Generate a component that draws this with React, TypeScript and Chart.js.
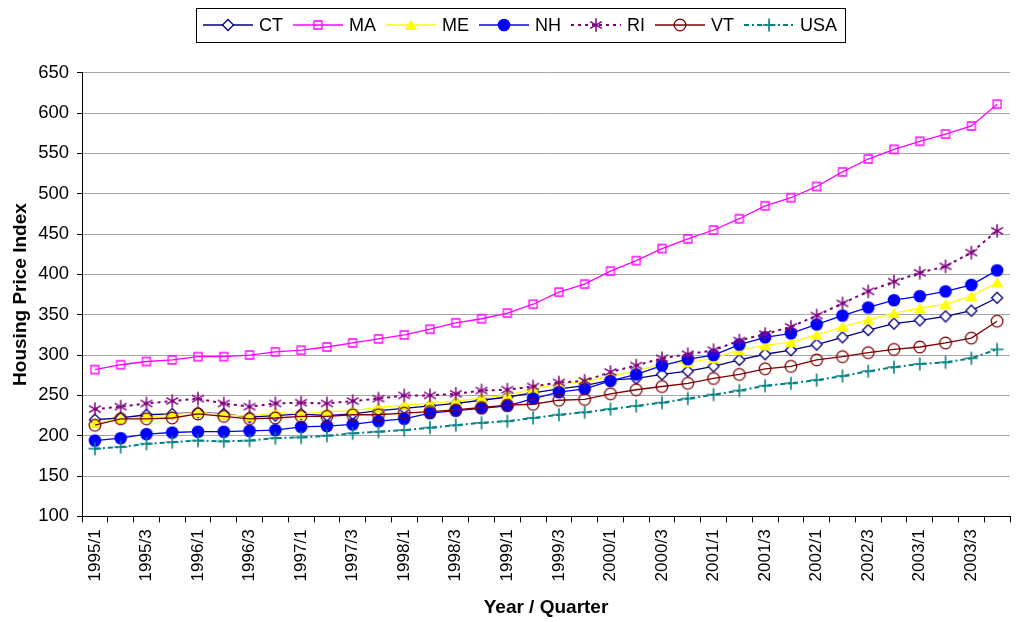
import React, { useEffect, useRef } from 'react';
import { Chart, registerables } from 'chart.js';

Chart.register(...registerables);

const quarterLabels = [
  '1995/1', '1995/2', '1995/3', '1995/4',
  '1996/1', '1996/2', '1996/3', '1996/4',
  '1997/1', '1997/2', '1997/3', '1997/4',
  '1998/1', '1998/2', '1998/3', '1998/4',
  '1999/1', '1999/2', '1999/3', '1999/4',
  '2000/1', '2000/2', '2000/3', '2000/4',
  '2001/1', '2001/2', '2001/3', '2001/4',
  '2002/1', '2002/2', '2002/3', '2002/4',
  '2003/1', '2003/2', '2003/3', '2003/4',
];

const ctValues = [220, 222, 226, 227, 229, 227, 223, 225, 227, 225, 227, 231, 234, 237, 240, 244, 248, 253, 258, 262, 269, 271, 276, 280, 286, 294, 301, 306, 313, 322, 331, 339, 343, 348, 355, 371];
const maValues = [282, 288, 292, 294, 298, 298, 300, 304, 306, 310, 315, 320, 325, 332, 340, 345, 352, 363, 378, 388, 404, 417, 432, 444, 455, 469, 485, 495, 509, 527, 543, 555, 565, 574, 584, 611];
const meValues = [216, 221, 223, 226, 229, 226, 224, 229, 227, 230, 231, 235, 238, 240, 243, 247, 250, 258, 264, 267, 274, 280, 289, 291, 296, 306, 312, 316, 325, 335, 344, 352, 358, 363, 373, 390];
const nhValues = [194, 197, 202, 204, 205, 205, 206, 207, 211, 212, 214, 218, 221, 228, 231, 234, 237, 246, 254, 258, 268, 276, 287, 295, 300, 313, 322, 327, 338, 349, 359, 368, 373, 379, 387, 405];
const riValues = [233, 236, 240, 243, 246, 240, 236, 240, 241, 240, 243, 246, 250, 250, 252, 256, 257, 261, 266, 268, 279, 287, 296, 301, 306, 318, 326, 335, 349, 364, 379, 391, 402, 410, 427, 454];
const vtValues = [213, 221, 221, 222, 227, 224, 221, 222, 224, 224, 226, 226, 228, 230, 232, 235, 238, 239, 244, 245, 252, 257, 261, 265, 271, 276, 283, 286, 294, 298, 303, 307, 310, 315, 321, 342];
const usaValues = [184, 186, 190, 192, 194, 193, 194, 197, 198, 200, 203, 205, 207, 210, 213, 216, 218, 222, 226, 229, 233, 237, 241, 246, 251, 256, 262, 265, 269, 274, 280, 285, 289, 291, 296, 307];

const yMin = 100;
const yMax = 650;
const yStep = 50;

function makeMarker(kind: string, color: string): HTMLCanvasElement {
  const size = 20;
  const c = document.createElement('canvas');
  c.width = size;
  c.height = size;
  const g = c.getContext('2d') as CanvasRenderingContext2D;
  const m = size / 2;
  g.strokeStyle = color;
  g.fillStyle = color;
  g.lineWidth = 1.3;
  g.beginPath();
  switch (kind) {
    case 'diamond':
      g.moveTo(m, m - 5.5);
      g.lineTo(m + 5.5, m);
      g.lineTo(m, m + 5.5);
      g.lineTo(m - 5.5, m);
      g.closePath();
      g.fillStyle = '#ffffff';
      g.fill();
      g.stroke();
      break;
    case 'square':
      g.rect(m - 4, m - 4, 8, 8);
      g.stroke();
      break;
    case 'triangle':
      g.moveTo(m, m - 5.5);
      g.lineTo(m + 6.2, m + 5);
      g.lineTo(m - 6.2, m + 5);
      g.closePath();
      g.fill();
      break;
    case 'dot':
      g.arc(m, m, 6.3, 0, Math.PI * 2);
      g.fill();
      break;
    case 'ring':
      g.arc(m, m, 5.8, 0, Math.PI * 2);
      g.stroke();
      break;
    case 'star': {
      const r = 6.8;
      g.moveTo(m, m - r);
      g.lineTo(m, m + r);
      const d = r * 0.87;
      g.moveTo(m - d, m - r * 0.5);
      g.lineTo(m + d, m + r * 0.5);
      g.moveTo(m - d, m + r * 0.5);
      g.lineTo(m + d, m - r * 0.5);
      g.lineWidth = 1.5;
      g.stroke();
      break;
    }
    case 'plus':
      g.moveTo(m, m - 6.5);
      g.lineTo(m, m + 6.5);
      g.moveTo(m - 6.5, m);
      g.lineTo(m + 6.5, m);
      g.lineWidth = 1.6;
      g.stroke();
      break;
  }
  return c;
}

export default function App() {
  const ref = useRef<HTMLCanvasElement>(null);

  useEffect(() => {
    if (!ref.current) return;
    const family = "'Liberation Sans', Arial, sans-serif";
    Chart.defaults.font.family = family;
    Chart.defaults.color = '#000';

    const series = [
      { label: 'CT', data: ctValues, color: '#000080', marker: 'diamond', dash: [] as number[], width: 1.3 },
      { label: 'MA', data: maValues, color: '#FF00FF', marker: 'square', dash: [] as number[], width: 1.3 },
      { label: 'ME', data: meValues, color: '#FFFF00', marker: 'triangle', dash: [] as number[], width: 1.3 },
      { label: 'NH', data: nhValues, color: '#0000FF', marker: 'dot', dash: [] as number[], width: 1.3 },
      { label: 'RI', data: riValues, color: '#800080', marker: 'star', dash: [3, 4], width: 2 },
      { label: 'VT', data: vtValues, color: '#800000', marker: 'ring', dash: [] as number[], width: 1.3 },
      { label: 'USA', data: usaValues, color: '#008080', marker: 'plus', dash: [5, 3, 2, 3], width: 2 },
    ];
    const markers = series.map((s) => makeMarker(s.marker, s.color));

    const legendPlugin = {
      id: 'boxLegend',
      afterDraw(chart: any) {
        const ctx = chart.ctx as CanvasRenderingContext2D;
        ctx.save();
        ctx.font = `18px ${family}`;
        const lineW = 50;
        const gap = 6;
        const spacing = 10;
        const widths = series.map((s) => ctx.measureText(s.label).width);
        const content = widths.reduce((a, w) => a + lineW + gap + w, 0) + spacing * (series.length - 1);
        const boxLeft = 196;
        const padL = 7;
        const padR = 8;
        const boxTop = 8;
        const boxH = 34;
        const cy = boxTop + boxH / 2;
        ctx.strokeStyle = '#000';
        ctx.lineWidth = 1;
        ctx.setLineDash([]);
        ctx.strokeRect(boxLeft + 0.5, boxTop + 0.5, Math.round(padL + content + padR), boxH);
        let x = boxLeft + padL;
        series.forEach((s, i) => {
          ctx.beginPath();
          ctx.setLineDash(s.dash);
          ctx.strokeStyle = s.color;
          ctx.lineWidth = s.width;
          ctx.moveTo(x, cy);
          ctx.lineTo(x + lineW, cy);
          ctx.stroke();
          ctx.setLineDash([]);
          const mk = markers[i];
          ctx.drawImage(mk, x + lineW / 2 - mk.width / 2, cy - mk.height / 2);
          ctx.fillStyle = '#000';
          ctx.textBaseline = 'middle';
          ctx.textAlign = 'left';
          ctx.fillText(s.label, x + lineW + gap, cy + 1);
          x += lineW + gap + widths[i] + spacing;
        });
        ctx.restore();
      },
    };

    const chart = new Chart(ref.current, {
      type: 'line',
      data: {
        labels: quarterLabels,
        datasets: series.map((s, i) => ({
          label: s.label,
          data: s.data,
          borderColor: s.color,
          backgroundColor: s.color,
          borderWidth: s.width,
          borderDash: s.dash,
          pointStyle: markers[i] as any,
          pointRadius: 6,
          pointHoverRadius: 6,
          tension: 0,
          fill: false,
          order: series.length - 1 - i,
        })),
      },
      options: {
        animation: false,
        responsive: true,
        maintainAspectRatio: false,
        layout: { padding: { top: 72.7, left: 0, right: 5, bottom: 0 } },
        plugins: { legend: { display: false }, tooltip: { enabled: false } },
        scales: {
          x: {
            type: 'category',
            offset: true,
            grid: { offset: true, drawOnChartArea: false, drawTicks: true, tickLength: 6, tickColor: '#000', color: '#000' },
            border: { color: '#000', width: 1 },
            ticks: {
              autoSkip: false,
              minRotation: 90,
              maxRotation: 90,
              padding: 7,
              font: { size: 17 },
              color: '#000',
              callback: (_v: any, i: number) => (i % 2 === 0 ? quarterLabels[i] : ''),
            },
            title: { display: true, text: 'Year / Quarter', font: { size: 19, weight: 'bold' }, color: '#000', padding: { top: 0, bottom: 3 } },
            afterFit: (s: any) => {
              s.height = 105.6;
              s.paddingLeft = 0;
              s.paddingRight = 0;
            },
          },
          y: {
            min: yMin,
            max: yMax,
            ticks: { stepSize: yStep, padding: 8, font: { size: 18.5 }, color: '#000' },
            grid: { color: '#a6a6a6', lineWidth: 1, tickLength: 5, tickColor: '#000' },
            border: { color: '#000', width: 1 },
            title: { display: true, text: 'Housing Price Index', font: { size: 19, weight: 'bold' }, color: '#000', padding: { top: 9, bottom: 0 } },
            afterFit: (s: any) => {
              s.width = 82;
              s.paddingTop = 0;
              s.paddingBottom = 0;
            },
          },
        },
      } as any,
      plugins: [legendPlugin],
    });

    return () => chart.destroy();
  }, []);

  return (
    <div style={{ position: 'fixed', left: 0, top: 0, width: 1018, height: 622, background: '#fff' }}>
      <canvas ref={ref} />
    </div>
  );
}
